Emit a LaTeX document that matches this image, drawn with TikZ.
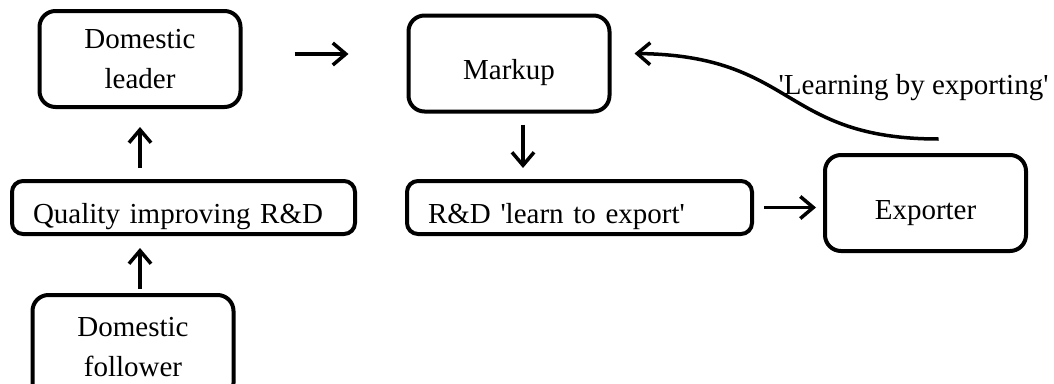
\documentclass[tikz,border=0pt]{standalone}
\usepackage{fontspec}
\setmainfont{Liberation Serif}
\usepackage{tikz}
\usetikzlibrary{arrows.meta,positioning}
\newcommand{\boxfont}{\fontsize{29pt}{40pt}\selectfont}
\newcommand{\sq}{\textquotesingle}

\begin{document}
\begin{tikzpicture}[>={Straight Barb[length=13pt,width=22pt]},x=1pt,y=1pt,
		box/.style={draw,line width=4pt,rounded corners=16pt,align=center,
			minimum width=201pt,minimum height=96pt,font=\boxfont},
		oneline/.style={text height=38pt,text depth=6pt,inner ysep=0pt},
		wide/.style={draw,line width=4pt,rounded corners=11pt,align=left,
			text width=301pt,inner xsep=21pt,minimum height=53pt,font=\boxfont,oneline},
		arr/.style={->,line width=3.5pt}]

		\useasboundingbox (0,0) rectangle (1054,-383);

		\node[box] (leader) at (140,-59) {Domestic\\leader};
		\node[wide] (quality) [below=70pt of leader,xshift=43.5pt] {Quality improving R\&D};
		\node[box,minimum height=104pt] (follower) [below=57pt of quality,xshift=-50.5pt] {Domestic\\follower};

		\node[box,oneline] (markup) [right=164pt of leader,yshift=-4.5pt] {Markup};
		\node[wide,text width=303pt] (rnd) [right=48pt of quality] {R\&D \sq learn to export\sq};
		\node[box,oneline] (exporter) [right=69pt of rnd,yshift=4.5pt] {Exporter};

		\draw[arr,shorten <=11pt,shorten >=18pt] (quality.north -| leader.south) -- (leader.south);
		\draw[arr,shorten <=4pt,shorten >=12pt] (follower.north -| leader.south) -- (quality.south -| leader.south);
		\draw[arr,shorten <=52pt,shorten >=58pt] ([yshift=5pt]leader.east) -- ([yshift=9.5pt]markup.west);
		\draw[arr,shorten <=11pt,shorten >=11pt] ([xshift=14pt]markup.south) -- ([xshift=-56.5pt]rnd.north);
		\draw[arr,shorten <=10pt,shorten >=7pt] (rnd.east) -- (rnd.east -| exporter.west);

		% learning by exporting loop back to markup
		\coordinate (lbx) at ([xshift=13pt,yshift=14pt]exporter.north);
		\coordinate (lbm) at ([xshift=23pt,yshift=10pt]markup.east);
		\draw[arr] (lbx) .. controls +(-158,0) and +(162,-2) .. (lbm);
		\node[anchor=base west,font=\boxfont,inner sep=0pt] (lblearn)
			at ([xshift=-147pt,yshift=59pt]exporter.north) {\sq Learning by exporting\sq};
\end{tikzpicture}
\end{document}
